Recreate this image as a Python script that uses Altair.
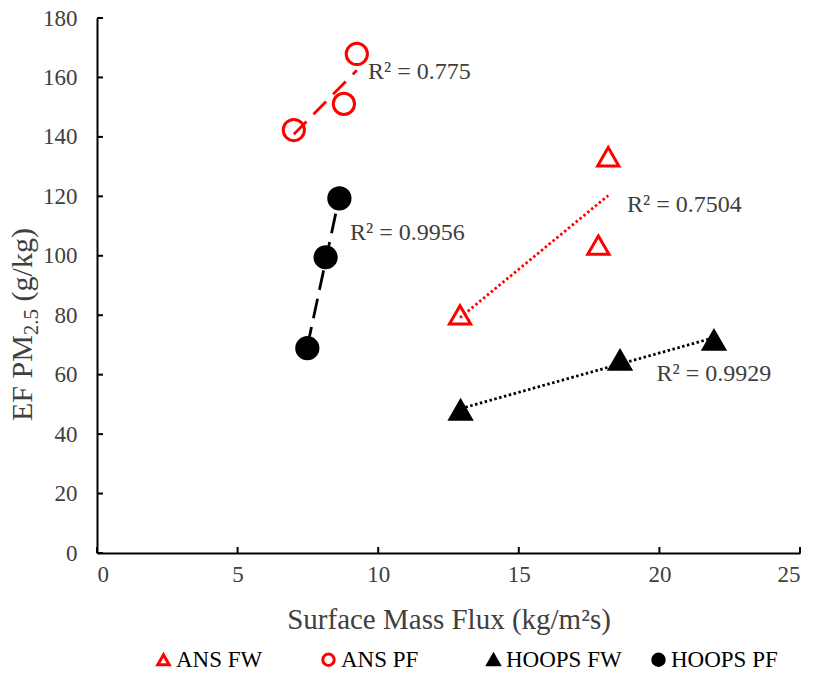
import altair as alt
import pandas as pd

series_names = ["ANS FW", "ANS PF", "HOOPS FW", "HOOPS PF"]

ans_fw_x = [12.91, 17.83, 18.18]
ans_fw_y = [80.1, 103.6, 133.3]
ans_pf_x = [7.0, 8.78, 9.24]
ans_pf_y = [142.3, 151.1, 167.9]
hoops_fw_x = [12.93, 18.6, 21.94]
hoops_fw_y = [48.1, 64.9, 71.6]
hoops_pf_x = [7.48, 8.13, 8.62]
hoops_pf_y = [68.9, 99.5, 119.3]

r2_text = ["R² = 0.7504", "R² = 0.775", "R² = 0.9929", "R² = 0.9956"]
r2_x = [18.85, 9.64, 19.9, 9.0]
r2_y = [117.1, 161.8, 60.2, 107.7]

x_ticks = [0, 5, 10, 15, 20, 25]
y_ticks = [0, 20, 40, 60, 80, 100, 120, 140, 160, 180]

colors = ["#FF0000", "#FF0000", "#000000", "#000000"]
fills = ["transparent", "transparent", "#000000", "#000000"]
shapes = ["triangle-up", "circle", "triangle-up", "circle"]
dashes = [[2.5, 2.5], [18, 10], [2.5, 2.5], [20, 9]]

rows = []
for name, xs, ys in zip(series_names,
                        [ans_fw_x, ans_pf_x, hoops_fw_x, hoops_pf_x],
                        [ans_fw_y, ans_pf_y, hoops_fw_y, hoops_pf_y]):
    for xv, yv in zip(xs, ys):
        rows.append({"series": name, "x": xv, "y": yv})
df = pd.DataFrame(rows)
labels_df = pd.DataFrame({"text": r2_text, "x": r2_x, "y": r2_y})

W, H = 703, 535
FONT = "Liberation Serif"
TXT = "#404040"

xscale = alt.Scale(domain=[0, 25], nice=False)
yscale = alt.Scale(domain=[0, 180], nice=False)

xaxis = alt.Axis(values=x_ticks, title="Surface Mass Flux (kg/m²s)", ticks=False, tickSize=0,
                 grid=False, labelPadding=10, titleY=66, titleBaseline="middle",
                 labelFontSize=23, titleFontSize=29, labelFont=FONT, titleFont=FONT,
                 labelColor=TXT, titleColor=TXT, titleFontWeight="normal",
                 domainColor="black", domainWidth=2)
yaxis = alt.Axis(values=y_ticks, title=None, ticks=False, tickSize=0, grid=False,
                 labelPadding=20, labelFontSize=23, labelFont=FONT, labelColor=TXT,
                 domainColor="black", domainWidth=2)

base = alt.Chart(df)

legend = alt.Legend(title=None, orient="none", direction="horizontal", columns=4,
                    legendX=55, legendY=630, symbolSize=130, symbolStrokeWidth=3,
                    labelFontSize=23, labelFont=FONT, labelColor="#000000",
                    labelOffset=1, columnPadding=24, gridAlign="all")

layers = []
for name, col, dash in zip(series_names, colors, dashes):
    line = base.transform_filter(alt.datum.series == name).transform_regression(
        "x", "y"
    ).mark_line(color=col, strokeWidth=2.8, strokeDash=dash).encode(
        x=alt.X("x:Q", scale=xscale, axis=xaxis),
        y=alt.Y("y:Q", scale=yscale, axis=yaxis),
    )
    layers.append(line)

points = base.mark_point(opacity=1, strokeWidth=3, size=450).encode(
    x=alt.X("x:Q", scale=xscale, axis=xaxis),
    y=alt.Y("y:Q", scale=yscale, axis=yaxis),
    shape=alt.Shape("series:N", scale=alt.Scale(domain=series_names, range=shapes), legend=legend),
    stroke=alt.Stroke("series:N", scale=alt.Scale(domain=series_names, range=colors), legend=legend),
    fill=alt.Fill("series:N", scale=alt.Scale(domain=series_names, range=fills), legend=legend),
)

texts = alt.Chart(labels_df).mark_text(align="left", baseline="middle", fontSize=24,
                                       font=FONT, color=TXT).encode(
    x=alt.X("x:Q", scale=xscale),
    y=alt.Y("y:Q", scale=yscale),
    text="text:N",
)

xtick_df = pd.DataFrame({"v": x_ticks})
ytick_df = pd.DataFrame({"v": y_ticks})
xt = alt.Chart(xtick_df).mark_rule(color="black", strokeWidth=2).encode(
    x=alt.X("v:Q", scale=xscale), y=alt.value(H), y2=alt.value(H - 6))
yt = alt.Chart(ytick_df).mark_rule(color="black", strokeWidth=2).encode(
    y=alt.Y("v:Q", scale=yscale), x=alt.value(0), x2=alt.value(6))

# Y-axis title with a real subscript: three text pieces rotated together
F_MAIN, F_SUB = 30, 21
title_x = -65
title_y0 = 403
w1 = 2.862 * F_MAIN
w2 = 1.25 * F_SUB
space = 0.25 * F_MAIN
one = pd.DataFrame({"k": [0]})
t1 = alt.Chart(one).mark_text(angle=270, align="left", baseline="alphabetic", font=FONT,
                              fontSize=F_MAIN, color=TXT).encode(
    x=alt.value(title_x), y=alt.value(title_y0), text=alt.value("EF PM"))
t2 = alt.Chart(one).mark_text(angle=270, align="left", baseline="alphabetic", font=FONT,
                              fontSize=F_SUB, color=TXT, dx=w1, dy=6).encode(
    x=alt.value(title_x), y=alt.value(title_y0), text=alt.value("2.5"))
t3 = alt.Chart(one).mark_text(angle=270, align="left", baseline="alphabetic", font=FONT,
                              fontSize=F_MAIN, color=TXT, dx=w1 + w2 + space).encode(
    x=alt.value(title_x), y=alt.value(title_y0), text=alt.value("(g/kg)"))

chart = alt.layer(*layers, xt, yt, points, texts, t1, t2, t3).properties(
    width=W, height=H,
    autosize=alt.AutoSizeParams(type="none"),
    padding={"left": 97, "top": 18, "right": 17, "bottom": 130},
    background="white",
).configure_view(stroke=None)

chart.save("out.html", embed_options={"renderer": "svg", "actions": False})
